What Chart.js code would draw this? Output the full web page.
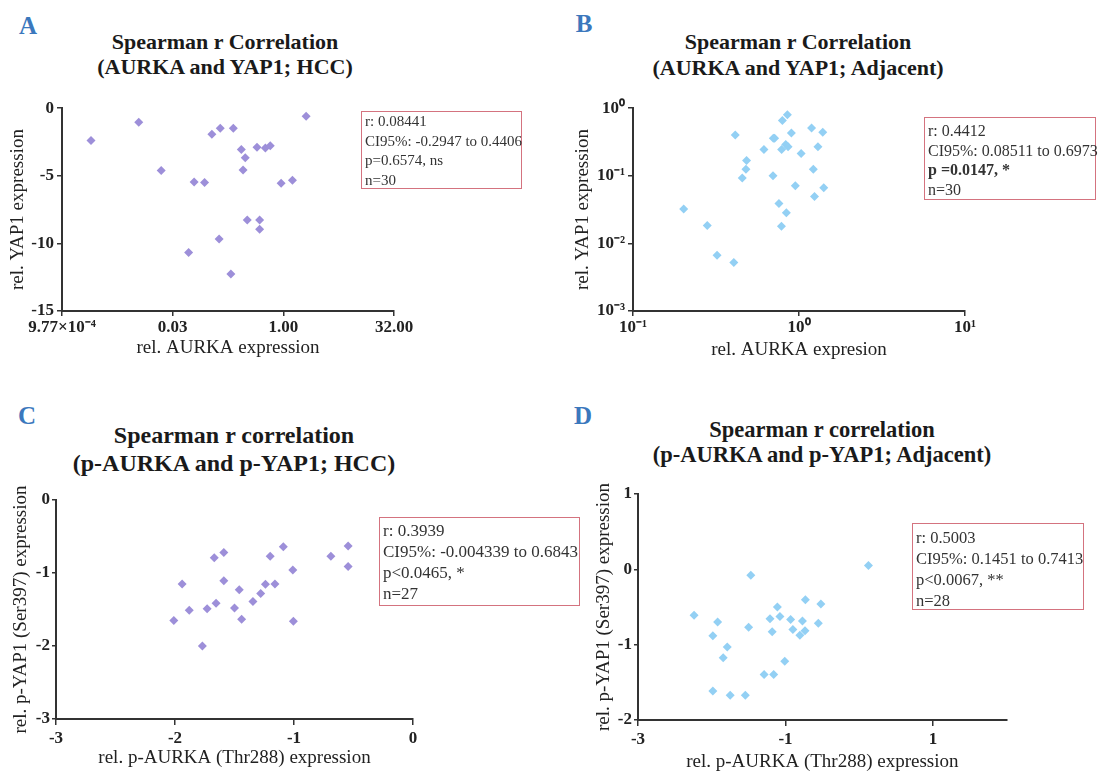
<!DOCTYPE html>
<html><head><meta charset="utf-8">
<script src="https://cdn.jsdelivr.net/npm/chart.js@4.4.1/dist/chart.umd.min.js"></script>
<style>
html,body{margin:0;padding:0;background:#fff;}
#wrap{position:relative;width:1099px;height:771px;overflow:hidden;font-family:"Liberation Serif","Times New Roman",serif;color:#222;}
canvas{position:absolute;}
.lbl{position:absolute;font-weight:bold;font-size:25px;color:#3b78bd;line-height:1;transform:translate(-50%,-50%);}
.ttl{position:absolute;font-weight:bold;line-height:1;white-space:nowrap;transform:translate(-50%,-50%);color:#1a1a1a;}
.box{position:absolute;border:1.5px solid #d4737f;box-sizing:border-box;white-space:nowrap;color:#333;padding-left:3px;}
</style></head><body><div id="wrap">
<div class="lbl" style="left:28px;top:25px">A</div>
<div class="lbl" style="left:584px;top:23px">B</div>
<div class="lbl" style="left:27px;top:415px">C</div>
<div class="lbl" style="left:583px;top:415px">D</div>
<div class="ttl" style="left:225px;top:42px;font-size:22px">Spearman r Correlation</div>
<div class="ttl" style="left:225px;top:67px;font-size:22px">(AURKA and YAP1; HCC)</div>
<div class="ttl" style="left:798px;top:42px;font-size:22px">Spearman r Correlation</div>
<div class="ttl" style="left:798px;top:68px;font-size:22px">(AURKA and YAP1; Adjacent)</div>
<div class="ttl" style="left:234px;top:435px;font-size:24px">Spearman r correlation</div>
<div class="ttl" style="left:234px;top:463px;font-size:24px">(p-AURKA and p-YAP1; HCC)</div>
<div class="ttl" style="left:822px;top:430px;font-size:22.5px">Spearman r correlation</div>
<div class="ttl" style="left:822px;top:455px;font-size:22.5px">(p-AURKA and p-YAP1; Adjacent)</div>
<canvas id="cA" width="540" height="275" style="left:0px;top:95px"></canvas>
<canvas id="cB" width="559" height="275" style="left:540px;top:95px"></canvas>
<canvas id="cC" width="540" height="291" style="left:0px;top:480px"></canvas>
<canvas id="cD" width="559" height="305" style="left:540px;top:470px"></canvas>
<div class="box" style="left:361px;top:111px;width:161px;height:78px;font-size:15px;line-height:19.5px">r: 0.08441<br>CI95%: -0.2947 to 0.4406<br>p=0.6574, ns<br>n=30</div>
<div class="box" style="left:924px;top:117px;width:172px;height:83px;font-size:16px;line-height:19.5px;padding-top:3px">r: 0.4412<br>CI95%: 0.08511 to 0.6973<br><b>p =0.0147, *</b><br>n=30</div>
<div class="box" style="left:379px;top:517px;width:201px;height:89px;font-size:17px;line-height:21px;padding-top:2px">r: 0.3939<br>CI95%: -0.004339 to 0.6843<br>p&lt;0.0465, *<br>n=27</div>
<div class="box" style="left:912px;top:523px;width:172px;height:87px;font-size:16.5px;line-height:21px;padding-top:3px">r: 0.5003<br>CI95%: 0.1451 to 0.7413<br>p&lt;0.0067, **<br>n=28</div>
</div>
<script>
// ---- Panel A data (AURKA vs YAP1, HCC) ----
const aX = [0.00242, 0.0108, 0.0218, 0.0612, 0.0848, 0.1066, 0.1387, 0.2088, 0.134, 0.0515, 0.1934, 0.268, 0.3035, 0.2832, 0.4383, 0.570, 0.664, 0.3231, 0.4763, 0.4763, 0.933, 1.329, 2.042];
const aY = [-2.39, -1.04, -4.6, -5.45, -5.5, -1.93, -1.48, -1.48, -9.67, -10.67, -12.26, -3.05, -3.66, -4.57, -2.88, -2.95, -2.78, -8.27, -8.27, -8.96, -5.55, -5.33, -0.6];
const aXTicks = [0.0009765625, 0.03125, 1, 32];
const aXTickLabels = ["9.77\u00d710\u207b\u2074", "0.03", "1.00", "32.00"];
const aYTicks = [0, -5, -10, -15];
const aYTickLabels = ["0", "-5", "-10", "-15"];
// ---- Panel B data (AURKA vs YAP1, Adjacent) ----
const bX = [0.202, 0.280, 0.321, 0.405, 0.413, 0.483, 0.479, 0.455, 0.615, 0.70, 0.713, 0.697, 0.794, 0.851, 0.90, 0.832, 0.859, 0.786, 1.03, 0.95, 0.757, 0.839, 0.784, 1.19, 1.39, 1.30, 1.22, 1.24, 1.41];
const bY = [0.0324, 0.0184, 0.0067, 0.0052, 0.402, 0.169, 0.125, 0.093, 0.245, 0.36, 0.36, 0.10, 0.66, 0.80, 0.43, 0.29, 0.268, 0.245, 0.214, 0.071, 0.039, 0.0283, 0.018, 0.509, 0.44, 0.268, 0.125, 0.0495, 0.0665];
const bXTicks = [0.1, 1, 10];
const bXTickLabels = ["10\u207b\u00b9", "10\u2070", "10\u00b9"];
const bYTicks = [1, 0.1, 0.01, 0.001];
const bYTickLabels = ["10\u2070", "10\u207b\u00b9", "10\u207b\u00b2", "10\u207b\u00b3"];
// ---- Panel C data (p-AURKA vs p-YAP1, HCC) ----
const cX = [-2.01, -1.94, -1.88, -1.77, -1.73, -1.67, -1.655, -1.59, -1.59, -1.50, -1.46, -1.44, -1.345, -1.28, -1.24, -1.20, -1.16, -1.09, -1.01, -1.005, -0.69, -0.545, -0.545];
const cY = [-1.65, -1.15, -1.51, -2.0, -1.49, -0.79, -1.415, -0.72, -1.105, -1.48, -1.23, -1.635, -1.39, -1.28, -1.155, -0.77, -1.15, -0.64, -0.96, -1.66, -0.77, -0.63, -0.91];
const cXTicks = [-3, -2, -1, 0];
const cXTickLabels = ["-3", "-2", "-1", "0"];
const cYTicks = [0, -1, -2, -3];
const cYTickLabels = ["0", "-1", "-2", "-3"];
// ---- Panel D data (p-AURKA vs p-YAP1, Adjacent) ----
const dX = [-2.24, -1.985, -1.985, -1.92, -1.79, -1.845, -1.75, -1.545, -1.50, -1.47, -1.29, -1.16, -1.21, -1.18, -1.11, -1.075, -1.01, -0.93, -0.90, -0.805, -0.77, -0.735, -0.73, -0.555, -0.52, 0.125];
const dY = [-0.61, -0.88, -1.615, -0.70, -1.03, -1.175, -1.67, -1.67, -0.77, -0.08, -1.395, -1.395, -0.655, -0.83, -0.50, -0.625, -1.22, -0.665, -0.80, -0.875, -0.685, -0.815, -0.405, -0.715, -0.46, 0.05];
const dXTicks = [-3, -1, 1];
const dXTickLabels = ["-3", "-1", "1"];
const dYTicks = [1, 0, -1, -2];
const dYTickLabels = ["1", "0", "-1", "-2"];

const FONT = "'Liberation Serif', 'Times New Roman', serif";
const PURPLE = "#9d8fd9";
const BLUE = "#93d0f4";

function axis(o) {
  return {
    type: o.type, min: o.min, max: o.max, bounds: 'data', position: o.pos,
    afterBuildTicks: s => { s.ticks = o.ticks.map(v => ({ value: v })); },
    afterFit: s => { if (o.pos === 'left') s.width = o.size; else s.height = o.size; },
    ticks: { autoSkip: false, maxRotation: 0, padding: o.tpad, color: '#222',
      font: { family: FONT, size: 17, weight: 'bold' }, callback: (v, i) => o.labels[i] },
    grid: { drawOnChartArea: false, drawTicks: true, tickLength: o.tlen, color: '#333', lineWidth: 1.5 },
    border: { display: true, color: '#333', width: 2 },
    title: { display: true, text: o.title, color: '#222', font: { family: FONT, size: 19 },
      padding: o.pos === 'left' ? { top: o.titlePad, bottom: 0 } : { top: 0, bottom: o.titlePad } }
  };
}

function make(id, xs, ys, color, pad, xo, yo) {
  new Chart(document.getElementById(id), {
    type: 'scatter',
    data: { datasets: [{ data: xs.map((x, i) => ({ x: x, y: ys[i] })), pointStyle: 'rectRot',
      radius: 4.5, backgroundColor: color, borderWidth: 0, hoverRadius: 4.5 }] },
    options: {
      responsive: false, animation: false, devicePixelRatio: 1,
      layout: { padding: pad },
      plugins: { legend: { display: false }, tooltip: { enabled: false } },
      scales: { x: axis(Object.assign({ pos: 'bottom' }, xo)), y: axis(Object.assign({ pos: 'left' }, yo)) }
    }
  });
}

make('cA', aX, aY, PURPLE, { left: 0, top: 12.5, right: 146, bottom: 0 },
  { type: 'logarithmic', min: aXTicks[0], max: aXTicks[3], ticks: aXTicks, labels: aXTickLabels, size: 59, tlen: 5, tpad: 1, title: 'rel. AURKA expression', titlePad: 10.6 },
  { type: 'linear', min: -15, max: 0, ticks: aYTicks, labels: aYTickLabels, size: 62, tlen: 5, tpad: 3, title: 'rel. YAP1 expression', titlePad: 6.6 });

make('cB', bX, bY, BLUE, { left: 0, top: 11.7, right: 134, bottom: 0 },
  { type: 'logarithmic', min: 0.1, max: 10, ticks: bXTicks, labels: bXTickLabels, size: 59, tlen: 5, tpad: 1, title: 'rel. AURKA expresion', titlePad: 8.6 },
  { type: 'logarithmic', min: 0.001, max: 1, ticks: bYTicks, labels: bYTickLabels, size: 93, tlen: 5, tpad: 3, title: 'rel. YAP1 expression', titlePad: 31.6 });

make('cC', cX, cY, PURPLE, { left: 0, top: 20, right: 127, bottom: 0 },
  { type: 'linear', min: -3, max: 0, ticks: cXTicks, labels: cXTickLabels, size: 52, tlen: 6, tpad: 3, title: 'rel. p-AURKA (Thr288) expression', titlePad: 1.6 },
  { type: 'linear', min: -3, max: 0, ticks: cYTicks, labels: cYTickLabels, size: 56, tlen: 4, tpad: 2, title: 'rel. p-YAP1 (Ser397) expression', titlePad: 9.6 });

make('cD', dX, dY, BLUE, { left: 0, top: 24, right: 92.3, bottom: 0 },
  { type: 'linear', min: -3, max: 2, ticks: dXTicks, labels: dXTickLabels, size: 55, tlen: 6, tpad: 3, title: 'rel. p-AURKA (Thr288) expression', titlePad: 1.6 },
  { type: 'linear', min: -2, max: 1, ticks: dYTicks, labels: dYTickLabels, size: 98, tlen: 4, tpad: 2, title: 'rel. p-YAP1 (Ser397) expression', titlePad: 52.6 });
</script>
</body></html>
